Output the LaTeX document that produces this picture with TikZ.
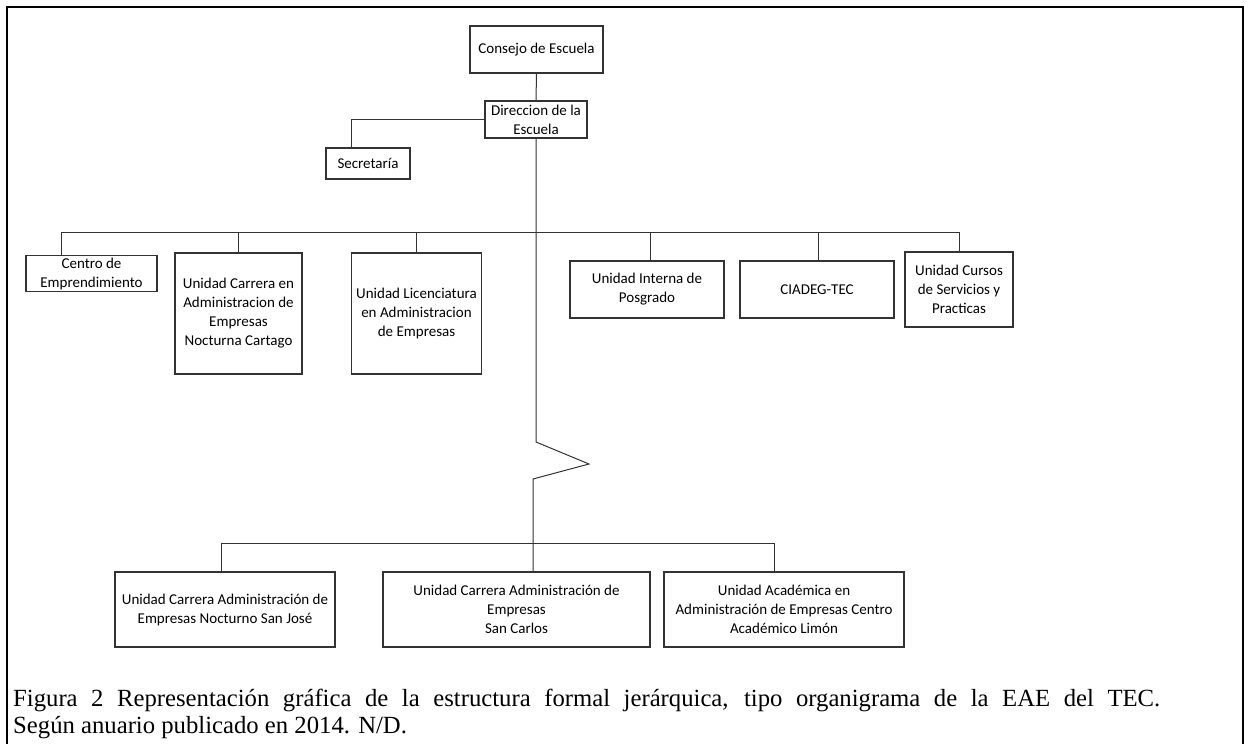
\documentclass[tikz,border=0pt]{standalone}
\usepackage{fontspec}
\setmainfont{Liberation Serif}
\newfontfamily\calib{Carlito}
\begin{document}
\begin{tikzpicture}[x=1pt,y=-1pt,
  box/.style={draw=black!80, line width=1.1pt, fill=white, inner sep=0pt, align=center,
    font=\calib\fontsize{15}{19}\selectfont},
  conn/.style={draw=black!80, line width=1pt}]
\useasboundingbox (0,0) rectangle (1250,744);
% outer frame
\draw[line width=2.5pt] (7,744) -- (7,7) -- (1243,7) -- (1243,744);

% top nodes
\node[box, minimum width=133pt, minimum height=47pt] (cons) at (536.5,49.5) {Consejo de Escuela};
\node[box, minimum width=102pt, minimum height=37pt] (dir) at (536,119.5) {Direccion de la\\Escuela};
\node[box, minimum width=84pt, minimum height=31pt] (sec) at (368,163.5) {Secretaría};

% first level
\node[box, minimum width=131pt, minimum height=36pt] (cen) at (91.5,273.5) {Centro de\\Emprendimiento};
\node[box, minimum width=127pt, minimum height=121pt] (car) at (238.5,313.5) {Unidad Carrera en\\Administracion de\\Empresas\\Nocturna Cartago};
\node[box, minimum width=130pt, minimum height=121pt] (lic) at (416.5,313.5) {Unidad Licenciatura\\en Administracion\\de Empresas};
\node[box, minimum width=154pt, minimum height=57pt] (pos) at (647,289.5) {Unidad Interna de\\Posgrado};
\node[box, minimum width=154pt, minimum height=57pt] (cia) at (817,289.5) {CIADEG-TEC};
\node[box, minimum width=108pt, minimum height=75pt] (cur) at (959,289.5) {Unidad Cursos\\de Servicios y\\Practicas};

% second level
\node[box, minimum width=220pt, minimum height=75pt] (sj) at (225,609.5) {Unidad Carrera Administración de\\Empresas Nocturno San José};
\node[box, minimum width=267pt, minimum height=75pt] (sc) at (516.5,609.5) {Unidad Carrera Administración de\\Empresas\\San Carlos};
\node[box, minimum width=240pt, minimum height=75pt] (li) at (784,609.5) {Unidad Académica en\\Administración de Empresas Centro\\Académico Limón};

% connectors top
\draw[conn] (cons.south) -- (dir.north);
\draw[conn] (dir.west) -| ([xshift=-17pt]sec.north);

% main line with break
\coordinate (z1) at (536,442);
\coordinate (z2) at (589,464);
\coordinate (z3) at (533,479);
\draw[conn] (dir.south) -- (z1) -- (z2) -- (z3) -- (z3 |- sc.north);

% upper bus
\coordinate (b1) at (61,232);
\coordinate (b7) at (959,232);
\draw[conn] (b1) -- (b7);
\draw[conn] (b1) -- (b1 |- cen.north);
\draw[conn] (car.north |- b1) -- (car.north);
\draw[conn] (lic.north |- b1) -- (lic.north);
\draw[conn] ([xshift=3pt]pos.north |- b1) -- ([xshift=3pt]pos.north);
\draw[conn] ([xshift=1pt]cia.north |- b1) -- ([xshift=1pt]cia.north);
\draw[conn] (b7) -- (cur.north);

% lower bus
\coordinate (l1) at (221,543);
\coordinate (l3) at (774,543);
\draw[conn] (l1) -- (l3);
\draw[conn] (l1) -- (l1 |- sj.north);
\draw[conn] (l3) -- (l3 |- li.north);

% caption
\node[anchor=base west, text width=1147pt, align=justify, inner sep=0pt,
  font=\fontsize{24.7}{27}\selectfont] (cap) at (13,706)
  {{\parfillskip=0pt Figura 2 Representación gráfica de la estructura formal jerárquica, tipo organigrama de la EAE del TEC.\par}Según anuario publicado en 2014. N/D.};
\end{tikzpicture}
\end{document}
